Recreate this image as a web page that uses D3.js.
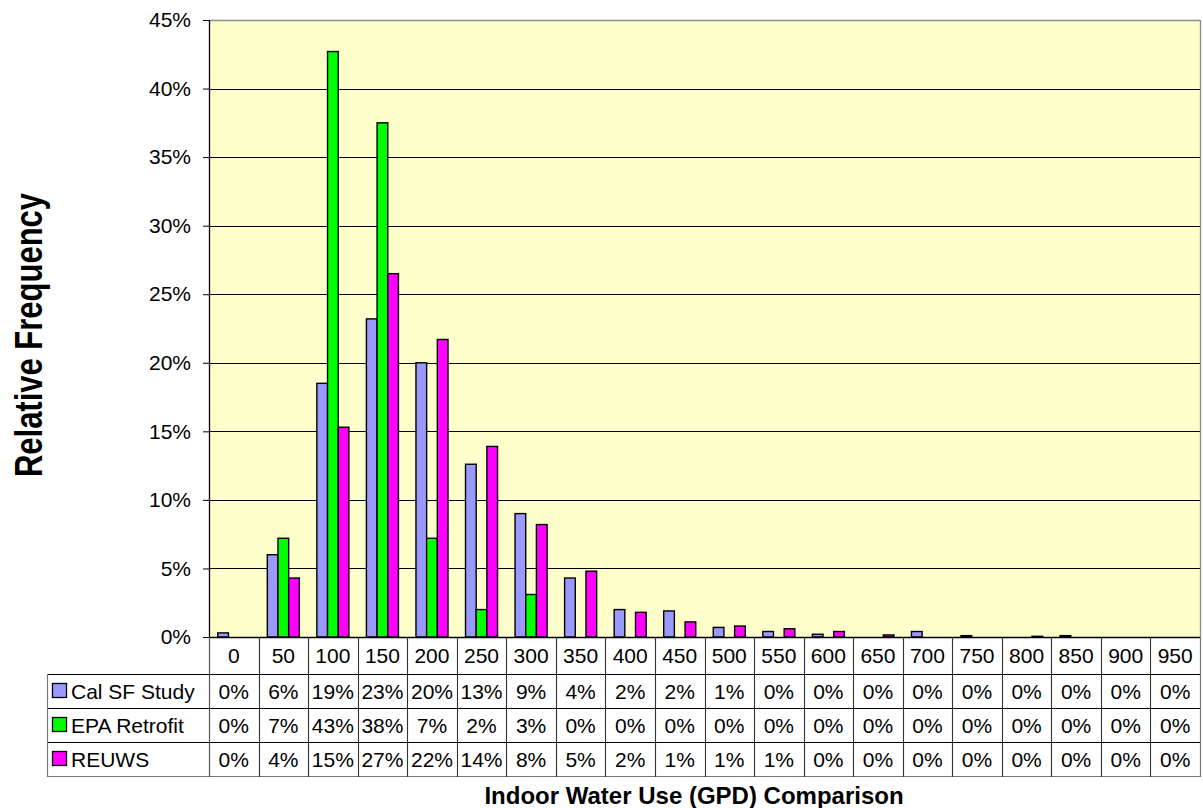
<!DOCTYPE html>
<html>
<head>
<meta charset="utf-8">
<script src="https://cdn.jsdelivr.net/npm/d3@7/dist/d3.min.js"></script>
<style>
  html, body { margin: 0; padding: 0; background: #ffffff; }
  svg { display: block; }
  text { font-family: "Liberation Sans", Arial, sans-serif; fill: #000; }
</style>
</head>
<body>
<svg id="chart" width="1203" height="808"></svg>
<script>
// ---------- data ----------
const categories = ["0","50","100","150","200","250","300","350","400","450","500","550","600","650","700","750","800","850","900","950"];
const seriesNames = ["Cal SF Study", "EPA Retrofit", "REUWS"];
const calSF   = [0.3, 6.0, 18.5, 23.2, 20.0, 12.6, 9.0, 4.3, 2.0, 1.9, 0.7, 0.4, 0.2, 0, 0.4, 0.1, 0, 0.1, 0, 0];
const epa     = [0, 7.2, 42.7, 37.5, 7.2, 2.0, 3.1, 0, 0, 0, 0, 0, 0, 0, 0, 0, 0, 0, 0, 0];
const reuws   = [0, 4.3, 15.3, 26.5, 21.7, 13.9, 8.2, 4.8, 1.8, 1.1, 0.8, 0.6, 0.4, 0.15, 0, 0, 0.05, 0, 0, 0];
const yTicks  = [0, 5, 10, 15, 20, 25, 30, 35, 40, 45];
const colors  = ["#9999FF", "#00FF00", "#FF00FF"];
const xTitle = "Indoor Water Use (GPD) Comparison";
const yTitle = "Relative Frequency";

const seriesValues = [calSF, epa, reuws];

// ---------- layout ----------
const svg = d3.select("#chart");
const plot = { left: 209, right: 1200, top: 20, bottom: 637 };
const table = { left: 47, headerBottom: 674, rowH: 34 };
const fs = 21;

const x = d3.scaleBand().domain(categories).range([plot.left, plot.right]).padding(0);
const xs = d3.scaleBand().domain(seriesNames).range([0, x.bandwidth()]).paddingInner(0).paddingOuter(0.82);
const y = d3.scaleLinear().domain([0, 45]).range([plot.bottom, plot.top]);

svg.append("rect").attr("x", 0).attr("y", 0).attr("width", 1203).attr("height", 808).attr("fill", "#fff");

// plot background
svg.append("rect")
  .attr("x", plot.left).attr("y", plot.top)
  .attr("width", plot.right - plot.left).attr("height", plot.bottom - plot.top)
  .attr("fill", "#FFFFCC");

// gridlines
svg.append("g").selectAll("line")
  .data(yTicks.filter(t => t > 0 && t < 45))
  .join("line")
  .attr("x1", plot.left).attr("x2", plot.right)
  .attr("y1", d => Math.round(y(d)) + 0.5).attr("y2", d => Math.round(y(d)) + 0.5)
  .attr("stroke", "#000").attr("stroke-width", 1);

// top & right border
svg.append("line").attr("x1", plot.left).attr("x2", plot.right + 0.5)
  .attr("y1", plot.top + 0.5).attr("y2", plot.top + 0.5).attr("stroke", "#8c8c8c").attr("stroke-width", 1.3);
svg.append("line").attr("x1", plot.right + 0.5).attr("x2", plot.right + 0.5)
  .attr("y1", plot.top).attr("y2", plot.bottom).attr("stroke", "#8c8c8c").attr("stroke-width", 1.3);

// bars
const groups = svg.append("g").selectAll("g")
  .data(seriesNames.map((n, i) => ({ name: n, values: seriesValues[i], color: colors[i] })))
  .join("g")
  .attr("fill", d => d.color);

groups.selectAll("rect")
  .data(d => d.values.map((v, j) => ({ v, cat: categories[j], name: d.name })).filter(e => e.v > 0))
  .join("rect")
  .attr("x", e => x(e.cat) + xs(e.name))
  .attr("width", xs.bandwidth())
  .attr("y", e => y(e.v))
  .attr("height", e => y(0) - y(e.v))
  .attr("stroke", "#000")
  .attr("stroke-width", 1.4);

// y axis
const yAxis = d3.axisLeft(y).tickValues(yTicks).tickFormat(d => d + "%").tickSize(6).tickPadding(12);
const yg = svg.append("g").attr("transform", `translate(${plot.left},0)`).call(yAxis);
yg.select(".domain").remove();
yg.selectAll(".tick line").attr("stroke", "#000");
yg.selectAll(".tick text").attr("font-size", fs).attr("font-family", "Liberation Sans, Arial, sans-serif").attr("fill", "#000");
svg.append("line").attr("x1", plot.left + 0.5).attr("x2", plot.left + 0.5)
  .attr("y1", plot.top).attr("y2", plot.bottom).attr("stroke", "#000").attr("stroke-width", 1.3);

// ---------- data table ----------
const tableBottom = table.headerBottom + table.rowH * seriesNames.length;
const tg = svg.append("g");

// horizontal lines
tg.append("line").attr("x1", plot.left).attr("x2", plot.right + 0.5)
  .attr("y1", plot.bottom + 0.5).attr("y2", plot.bottom + 0.5).attr("stroke", "#000").attr("stroke-width", 1.3);
seriesNames.forEach((n, i) => {
  const yy = table.headerBottom + i * table.rowH + 0.5;
  tg.append("line").attr("x1", table.left).attr("x2", plot.right + 0.5)
    .attr("y1", yy).attr("y2", yy).attr("stroke", "#000").attr("stroke-width", 1.2);
});
tg.append("line").attr("x1", table.left).attr("x2", plot.right + 0.5)
  .attr("y1", tableBottom + 0.5).attr("y2", tableBottom + 0.5).attr("stroke", "#777").attr("stroke-width", 1.2);

// vertical lines
tg.append("line").attr("x1", table.left + 0.5).attr("x2", table.left + 0.5)
  .attr("y1", table.headerBottom).attr("y2", tableBottom + 1).attr("stroke", "#777").attr("stroke-width", 1.2);
tg.append("line").attr("x1", plot.left + 0.5).attr("x2", plot.left + 0.5)
  .attr("y1", plot.bottom).attr("y2", tableBottom + 1).attr("stroke", "#555").attr("stroke-width", 1.2);
tg.selectAll("line.vc")
  .data(categories.slice(1))
  .join("line").attr("class", "vc")
  .attr("x1", d => Math.round(x(d)) + 0.5).attr("x2", d => Math.round(x(d)) + 0.5)
  .attr("y1", plot.bottom).attr("y2", tableBottom + 1)
  .attr("stroke", "#333").attr("stroke-width", 1.1);
tg.append("line").attr("x1", plot.right + 0.5).attr("x2", plot.right + 0.5)
  .attr("y1", plot.bottom).attr("y2", tableBottom + 1).attr("stroke", "#777").attr("stroke-width", 1.2);

// header labels
tg.selectAll("text.hdr")
  .data(categories)
  .join("text").attr("class", "hdr")
  .attr("x", d => x(d) + x.bandwidth() / 2)
  .attr("y", (plot.bottom + table.headerBottom) / 2)
  .attr("dy", "0.36em")
  .attr("text-anchor", "middle")
  .attr("font-size", fs)
  .text(d => d);

// rows
seriesNames.forEach((n, i) => {
  const top = table.headerBottom + i * table.rowH;
  const cy = top + table.rowH / 2;
  tg.append("rect").attr("x", table.left + 5.5).attr("y", cy - 7.5)
    .attr("width", 14).attr("height", 14)
    .attr("fill", colors[i]).attr("stroke", "#000").attr("stroke-width", 1.3);
  tg.append("text").attr("x", table.left + 24).attr("y", cy).attr("dy", "0.36em")
    .attr("font-size", fs).text(n);
  tg.selectAll(null)
    .data(seriesValues[i])
    .join("text")
    .attr("x", (v, j) => x(categories[j]) + x.bandwidth() / 2)
    .attr("y", cy).attr("dy", "0.36em")
    .attr("text-anchor", "middle")
    .attr("font-size", fs)
    .text(v => Math.round(v) + "%");
});

// titles
svg.append("text")
  .attr("x", 694)
  .attr("y", 804)
  .attr("text-anchor", "middle")
  .attr("font-size", 24).attr("font-weight", "bold")
  .text(xTitle);

svg.append("text")
  .attr("transform", `translate(42, 335) scale(1.25, 1) rotate(-90)`)
  .attr("text-anchor", "middle")
  .attr("font-size", 31).attr("font-weight", "bold")
  .text(yTitle);
</script>
</body>
</html>
